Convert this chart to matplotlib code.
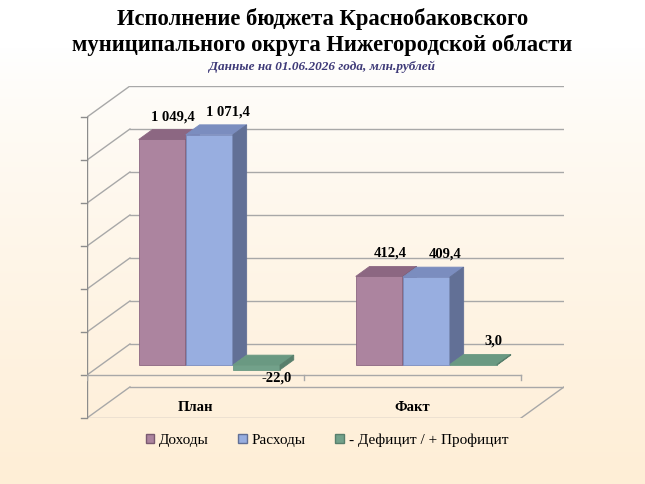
import numpy as np
import matplotlib
matplotlib.use("Agg")
import matplotlib.pyplot as plt
from matplotlib.patches import Polygon, Patch

# budget data, mln rub
CATEGORIES = ["План", "Факт"]
SERIES = ["Доходы", "Расходы", "- Дефицит / + Профицит"]
INCOME = [1049.4, 412.4]
SPENDING = [1071.4, 409.4]
BALANCE = [-22.0, 3.0]
Y_TICKS = list(range(-200, 1201, 200))

TITLE = "Исполнение бюджета Краснобаковского\nмуниципального округа Нижегородской области"
SUBTITLE = "Данные на 01.06.2026 года, млн.рублей"

FRONT = ["#AC849F", "#98AEE0", "#72A18A"]
TOP = ["#8C6782", "#7B8DBF", "#6A9982"]
SIDE = ["#7A5A71", "#627096", "#587F6C"]
GRID = "#A8A8A8"

# fake 3d box: depth shift in data units
DX, DY = 0.198, 144.5
F1, F2 = 0.32, 0.64
BAR_W = 0.217
GAP = 0.175
SERIF = "Liberation Serif"


def fmt(v):
    return f"{v:,.1f}".replace(",", " ").replace(".", ",")


fig = plt.figure(figsize=(6.45, 4.84), dpi=100)

# background gradient white -> cream
bg = fig.add_axes([0, 0, 1, 1], zorder=-10)
t = np.linspace(0, 1, 256)
w = np.clip((t - 0.1) / 0.9, 0, 1) ** 0.8
top_c = np.array([1.0, 1.0, 1.0])
bot_c = np.array([254, 238, 214]) / 255
grad = top_c[None, :] * (1 - w[:, None]) + bot_c[None, :] * w[:, None]
bg.imshow(grad[:, None, :], aspect="auto", extent=[0, 1, 0, 1])
bg.axis("off")

ax = fig.add_axes([87 / 645, 66 / 484, 477 / 645, 332 / 484])
ax.set_xlim(0, len(CATEGORIES) + DX)
ax.set_ylim(Y_TICKS[0], Y_TICKS[-1] + DY)
ax.axis("off")
ax.patch.set_alpha(0)

n = len(CATEGORIES)
# back wall + left wall
for v in Y_TICKS:
    ax.plot([DX, n + DX], [v + DY, v + DY], color=GRID, lw=1, zorder=1)
    ax.plot([0, DX], [v, v + DY], color=GRID, lw=1, zorder=1)
    ax.plot([-0.028, 0], [v, v], color="#8C8C8C", lw=1, zorder=1, clip_on=False)
ax.plot([0, 0], [Y_TICKS[0], Y_TICKS[-1]], color="#8C8C8C", lw=1, zorder=1)
# floor
ax.plot([0, n], [Y_TICKS[0]] * 2, color=GRID, lw=1, zorder=1)
ax.plot([n, n + DX], [Y_TICKS[0], Y_TICKS[0] + DY], color=GRID, lw=1, zorder=1)
# category axis at zero (front)
ax.plot([0, n], [0, 0], color=GRID, lw=1, zorder=1)
for k in range(n + 1):
    ax.plot([k, k], [0, -24], color=GRID, lw=1, zorder=1)

ddx, ddy = (F2 - F1) * DX, (F2 - F1) * DY
label_dx = [-3, 5, 6]
for j, vals in enumerate([INCOME, SPENDING, BALANCE]):
    xs = np.arange(n) + GAP + j * BAR_W + F1 * DX
    bars = ax.bar(xs, vals, width=BAR_W, bottom=F1 * DY, align="edge",
                  color=FRONT[j], edgecolor=TOP[j], lw=0.6, zorder=3 + j)
    for bar, v in zip(bars, vals):
        x0 = bar.get_x()
        x1 = x0 + bar.get_width()
        lo = F1 * DY + min(v, 0)
        hi = F1 * DY + max(v, 0)
        ax.add_patch(Polygon([(x0, hi), (x1, hi), (x1 + ddx, hi + ddy), (x0 + ddx, hi + ddy)],
                             closed=True, facecolor=TOP[j], edgecolor=TOP[j], lw=0.6, zorder=3 + j))
        ax.add_patch(Polygon([(x1, lo), (x1, hi), (x1 + ddx, hi + ddy), (x1 + ddx, lo + ddy)],
                             closed=True, facecolor=SIDE[j], edgecolor=SIDE[j], lw=0.6, zorder=3 + j))
        xc = (x0 + x1) / 2
        if v >= 0:
            ax.annotate(fmt(v), (xc + ddx, hi + ddy), xytext=(label_dx[j], 13),
                        textcoords="offset pixels", ha="center", va="center",
                        fontsize=10.5, fontweight="bold", family=SERIF, zorder=10)
        else:
            ax.annotate(fmt(v), (xc, lo), xytext=(20, -8),
                        textcoords="offset pixels", ha="center", va="center",
                        fontsize=10.5, fontweight="bold", family=SERIF, zorder=10)

for k, cat in enumerate(CATEGORIES):
    ax.text(k + 0.5, -150, cat, ha="center", va="center",
            fontsize=10.5, fontweight="bold", family=SERIF, zorder=10)

fig.text(0.5, 1 - 32 / 484, TITLE, ha="center", va="center", fontsize=16.3,
         fontweight="bold", family=SERIF, linespacing=1.25)
fig.text(0.5, 1 - 67 / 484, SUBTITLE, ha="center", va="center", fontsize=9.5,
         fontweight="bold", style="italic", family=SERIF, color="#3E3A78")

handles = [Patch(facecolor=FRONT[j], edgecolor=SIDE[j], lw=1) for j in range(3)]
fig.legend(handles, SERIES, loc="center", bbox_to_anchor=(327 / 645, 1 - 440 / 484),
           ncol=3, frameon=False, prop={"family": SERIF, "size": 11},
           handlelength=0.55, handleheight=0.55, handletextpad=0.35, columnspacing=1.9)

fig.savefig("out.png", dpi=100)
